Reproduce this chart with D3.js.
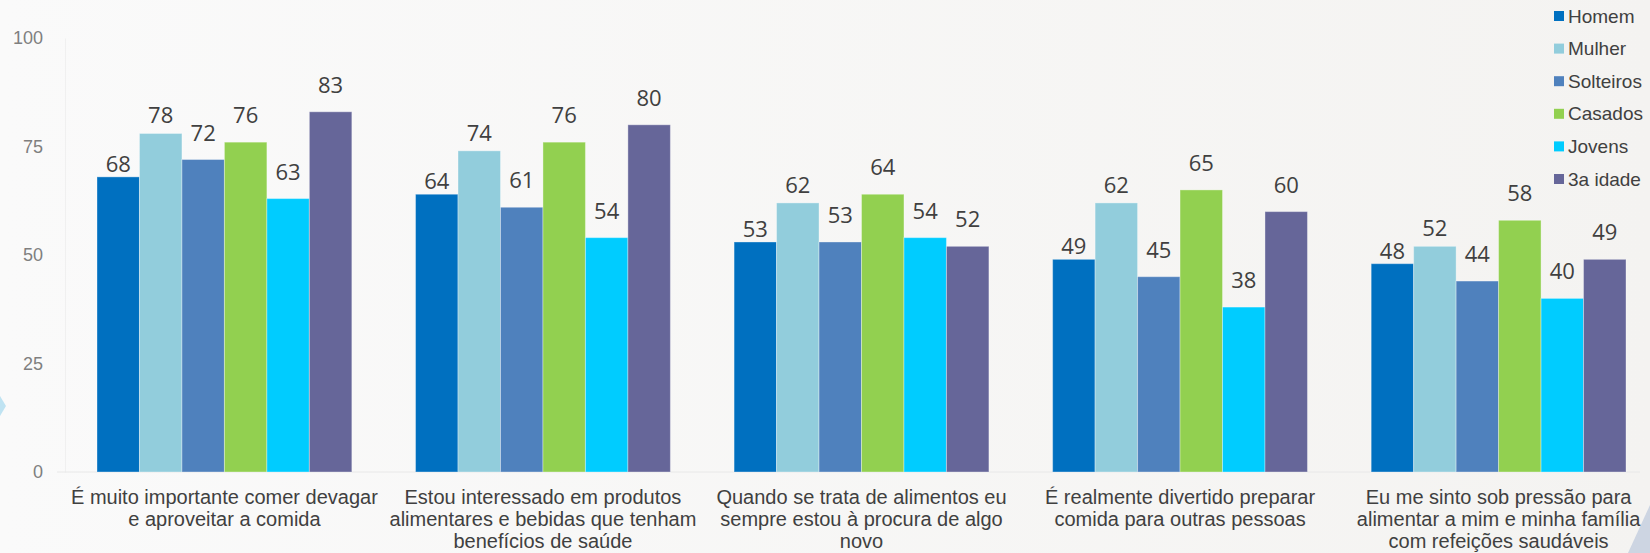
<!DOCTYPE html>
<html>
<head>
<meta charset="utf-8">
<script src="https://cdn.jsdelivr.net/npm/d3@7"></script>
<style>
  body { margin: 0; padding: 0; overflow: hidden; }
  svg { display: block; }
</style>
</head>
<body>
<div id="chart"></div>
<script>
// chart data
var categories = [
  "É muito importante comer devagar\ne aproveitar a comida",
  "Estou interessado em produtos\nalimentares e bebidas que tenham\nbenefícios de saúde",
  "Quando se trata de alimentos eu\nsempre estou à procura de algo\nnovo",
  "É realmente divertido preparar\ncomida para outras pessoas",
  "Eu me sinto sob pressão para\nalimentar a mim e minha família\ncom refeições saudáveis"
];
var seriesNames = ["Homem", "Mulher", "Solteiros", "Casados", "Jovens", "3a idade"];
var homem = [68, 64, 53, 49, 48];
var mulher = [78, 74, 62, 62, 52];
var solteiros = [72, 61, 53, 45, 44];
var casados = [76, 76, 64, 65, 58];
var jovens = [63, 54, 54, 38, 40];
var terceiraIdade = [83, 80, 52, 60, 49];
var yTicks = [0, 25, 50, 75, 100];

var seriesValues = [homem, mulher, solteiros, casados, jovens, terceiraIdade];
var colors = ["#0070C0", "#92CDDC", "#4F81BD", "#92D050", "#00CCFF", "#666699"];
// label gap above bar top, per series
var labelGap = [5, 10, 19, 19, 19, 19];

var svgWidth = 1650;
var svgHeight = 553;

var svg = d3.select("#chart")
  .append("svg")
  .attr("width", svgWidth)
  .attr("height", svgHeight);

// background
var defs = svg.append("defs");
var grad = defs.append("linearGradient")
  .attr("id", "bg")
  .attr("x1", "0").attr("y1", "0")
  .attr("x2", "1").attr("y2", "0");
grad.append("stop").attr("offset", "0").attr("stop-color", "#fafafa");
grad.append("stop").attr("offset", "1").attr("stop-color", "#f4f3f1");

svg.append("rect")
  .attr("width", svgWidth)
  .attr("height", svgHeight)
  .attr("fill", "url(#bg)");

// small decorations at the edges
svg.append("path")
  .attr("d", "M0,396 L6,406 L0,416 Z")
  .attr("fill", "#bfe3f2");
svg.append("path")
  .attr("d", "M1650,505 L1650,553 L1628,553 Z")
  .attr("fill", "#c3cddf")
  .attr("opacity", 0.8);

// scales
var x0 = d3.scaleBand()
  .domain(d3.range(categories.length))
  .range([97, 1626])
  .paddingInner(0.2)
  .paddingOuter(0);

var x1 = d3.scaleBand()
  .domain(d3.range(seriesNames.length))
  .range([0, x0.bandwidth()]);

var y = d3.scaleLinear()
  .domain([0, 100])
  .range([472, 38]);

// y axis
var yAxis = svg.append("g")
  .attr("transform", "translate(65,0)")
  .call(d3.axisLeft(y).tickValues(yTicks).tickSize(0).tickPadding(22));

yAxis.select(".domain").attr("stroke", "#f0f0f0");
yAxis.selectAll("text")
  .attr("font-family", "Liberation Sans, Arial, sans-serif")
  .attr("font-size", 18)
  .attr("fill", "#7f7f7f");

// baseline
svg.append("line")
  .attr("x1", 57)
  .attr("x2", 1640)
  .attr("y1", y(0))
  .attr("y2", y(0))
  .attr("stroke", "#e8e8e8")
  .attr("stroke-width", 1);

// bars
var groups = svg.append("g").selectAll("g")
  .data(categories)
  .enter()
  .append("g")
  .attr("transform", (d, i) => `translate(${x0(i)},0)`);

groups.selectAll("rect")
  .data((d, i) => seriesValues.map((s, j) => ({ s: j, v: s[i] })))
  .enter()
  .append("rect")
  .attr("x", d => x1(d.s))
  .attr("y", d => y(d.v))
  .attr("width", x1.bandwidth())
  .attr("height", d => y(0) - y(d.v))
  .attr("fill", d => colors[d.s])
  .attr("stroke", "#ffffff")
  .attr("stroke-opacity", 0.35)
  .attr("stroke-width", 1);

// value labels
groups.selectAll("text.value")
  .data((d, i) => seriesValues.map((s, j) => ({ s: j, v: s[i] })))
  .enter()
  .append("text")
  .attr("class", "value")
  .attr("x", d => x1(d.s) + x1.bandwidth() / 2)
  .attr("y", d => y(d.v) - labelGap[d.s])
  .attr("text-anchor", "middle")
  .attr("font-family", "Open Sans, sans-serif")
  .attr("font-size", 22)
  .attr("fill", "#404040")
  .text(d => d.v);

// x axis labels, several lines each
var xLabels = svg.append("g").selectAll("text")
  .data(categories)
  .enter()
  .append("text")
  .attr("text-anchor", "middle")
  .attr("font-family", "Liberation Sans, Arial, sans-serif")
  .attr("font-size", 20)
  .attr("fill", "#404040");

xLabels.each(function(d, i) {
  var t = d3.select(this);
  d.split("\n").forEach(function(line, k) {
    t.append("tspan")
      .attr("x", x0(i) + x0.bandwidth() / 2)
      .attr("y", 504 + k * 22)
      .text(line);
  });
});

// legend
var legend = svg.append("g").selectAll("g")
  .data(seriesNames)
  .enter()
  .append("g")
  .attr("transform", (d, i) => `translate(1554, ${16 + i * 32.6})`);

legend.append("rect")
  .attr("x", 0)
  .attr("y", -5)
  .attr("width", 10)
  .attr("height", 10)
  .attr("fill", (d, i) => colors[i]);

legend.append("text")
  .attr("x", 14)
  .attr("y", 0)
  .attr("dy", "0.35em")
  .attr("font-family", "Liberation Sans, Arial, sans-serif")
  .attr("font-size", 19)
  .attr("fill", "#404040")
  .text(d => d);
</script>
</body>
</html>
